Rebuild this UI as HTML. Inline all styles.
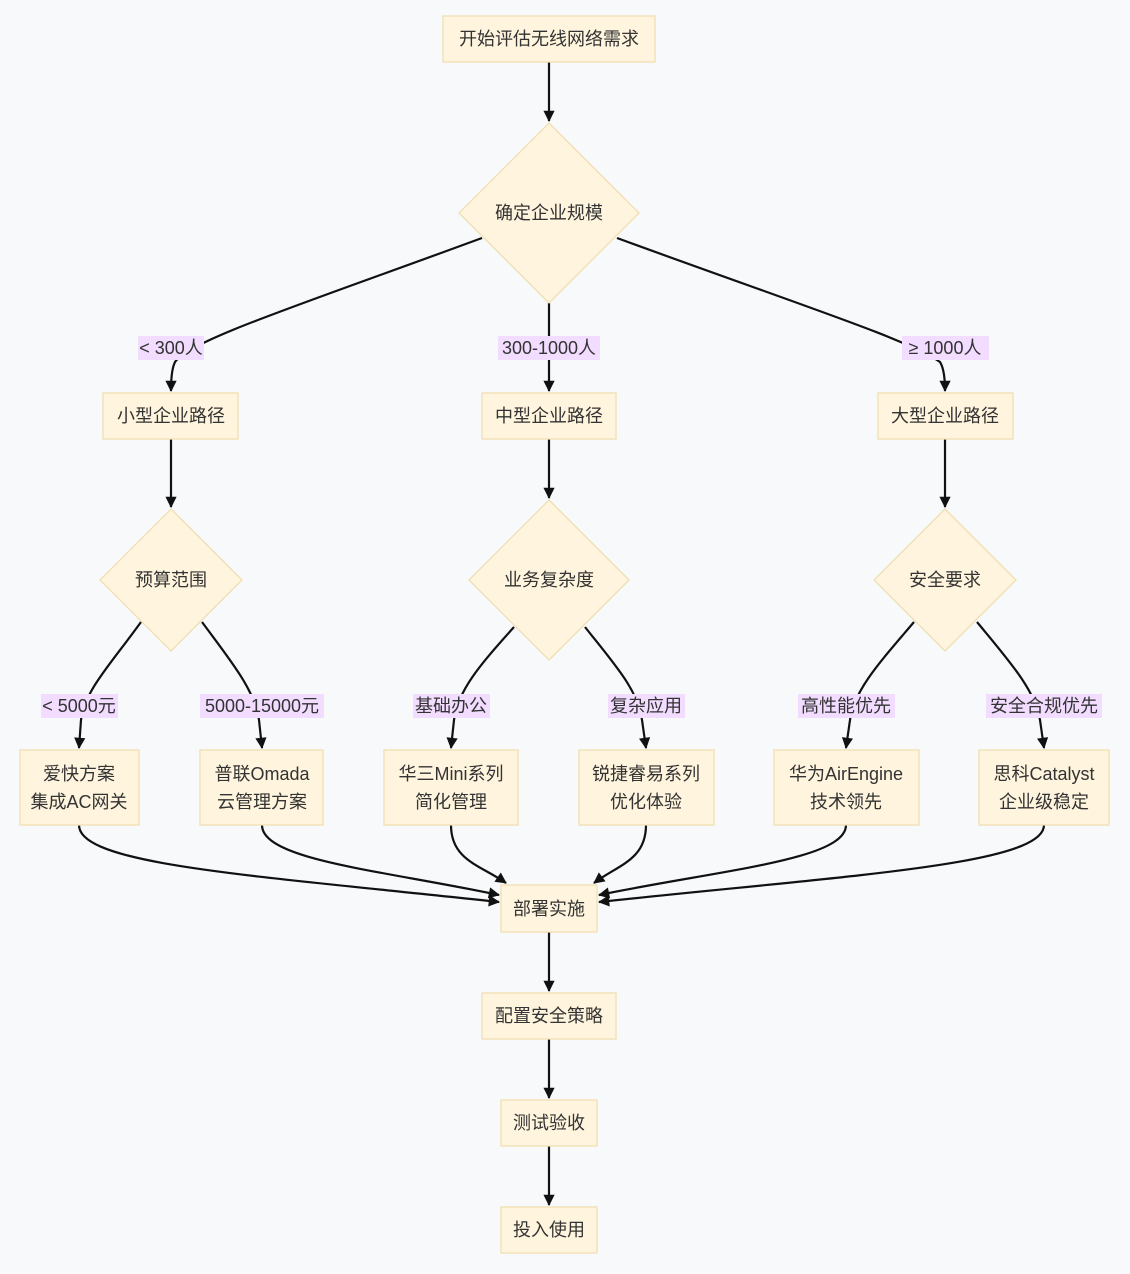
<!DOCTYPE html>
<html><head><meta charset="utf-8"><style>
body{margin:0;background:#f8f9fa;}
svg{display:block;font-family:"Liberation Sans","Noto Sans CJK SC",sans-serif;}
.n{fill:#fff4dd;stroke:#f1deb2;stroke-width:1.3;}
.e{fill:none;stroke:#111;stroke-width:2.2;}
.t{font-size:18px;fill:#333;text-anchor:middle;dominant-baseline:central;}
.lb{fill:#f2dcff;}
</style></head><body>
<svg width="1130" height="1274" viewBox="0 0 1130 1274">
<defs><marker id="a" viewBox="0 0 10 10" refX="9" refY="5" markerWidth="7" markerHeight="7" markerUnits="userSpaceOnUse" orient="auto" style="overflow:visible"><path d="M0,0 L10,5 L0,10 z" fill="#111" transform="scale(1.6) translate(-3.5,-1.9)"/></marker></defs>
<g class="e">
<path d="M549,62 V121" marker-end="url(#a)"/>
<path d="M482,238 C300,305 190,340 175,362 Q171,370 171,391" marker-end="url(#a)"/>
<path d="M549,303 V391" marker-end="url(#a)"/>
<path d="M617,238 C800,305 910,340 940,362 Q945,370 945,391" marker-end="url(#a)"/>
<path d="M171,439 V507" marker-end="url(#a)"/>
<path d="M549,439 V498" marker-end="url(#a)"/>
<path d="M945,439 V507" marker-end="url(#a)"/>
<path d="M141,622 C110,665 85,690 81,720 L79,748" marker-end="url(#a)"/>
<path d="M202,622 C230,660 255,690 259,720 L262,748" marker-end="url(#a)"/>
<path d="M514,627 C480,665 458,690 454,720 L451,748" marker-end="url(#a)"/>
<path d="M585,627 C615,665 638,690 642,720 L646,748" marker-end="url(#a)"/>
<path d="M914,622 C880,662 854,690 850,720 L846,748" marker-end="url(#a)"/>
<path d="M977,622 C1010,662 1035,690 1040,720 L1044,748" marker-end="url(#a)"/>
<path d="M79,825 C79,865 250,875 499,902" marker-end="url(#a)"/>
<path d="M262,825 C262,860 380,870 499,895" marker-end="url(#a)"/>
<path d="M451,825 C451,860 480,865 506,883" marker-end="url(#a)"/>
<path d="M646,825 C646,860 618,865 594,883" marker-end="url(#a)"/>
<path d="M846,825 C846,860 720,870 599,895" marker-end="url(#a)"/>
<path d="M1044,825 C1044,865 850,875 599,902" marker-end="url(#a)"/>
<path d="M549,932 V991" marker-end="url(#a)"/>
<path d="M549,1039 V1098" marker-end="url(#a)"/>
<path d="M549,1146 V1205" marker-end="url(#a)"/>
</g>
<g>
<rect class="n" x="443" y="16" width="212" height="46"/><text class="t" x="549" y="39">开始评估无线网络需求</text>
<polygon class="n" points="549,123 639,213 549,303 459,213"/><text class="t" x="549" y="213">确定企业规模</text>
<rect class="lb" x="138" y="336" width="66" height="24"/><text class="t" x="171" y="348">&lt; 300人</text>
<rect class="lb" x="498" y="336" width="102" height="24"/><text class="t" x="549" y="348">300-1000人</text>
<rect class="lb" x="902" y="336" width="87" height="24"/><text class="t" x="945" y="348">≥ 1000人</text>
<rect class="n" x="103" y="393" width="135" height="46"/><text class="t" x="171" y="416">小型企业路径</text>
<rect class="n" x="482" y="393" width="134" height="46"/><text class="t" x="549" y="416">中型企业路径</text>
<rect class="n" x="878" y="393" width="135" height="46"/><text class="t" x="945" y="416">大型企业路径</text>
<polygon class="n" points="171,509 242,580 171,651 100,580"/><text class="t" x="171" y="580">预算范围</text>
<polygon class="n" points="549,500 629,580 549,660 469,580"/><text class="t" x="549" y="580">业务复杂度</text>
<polygon class="n" points="945,509 1016,580 945,651 874,580"/><text class="t" x="945" y="580">安全要求</text>
<rect class="lb" x="41" y="694" width="77" height="24"/><text class="t" x="79" y="706">&lt; 5000元</text>
<rect class="lb" x="200" y="694" width="124" height="24"/><text class="t" x="262" y="706">5000-15000元</text>
<rect class="lb" x="413" y="694" width="77" height="24"/><text class="t" x="451" y="706">基础办公</text>
<rect class="lb" x="608" y="694" width="77" height="24"/><text class="t" x="646" y="706">复杂应用</text>
<rect class="lb" x="798" y="694" width="97" height="24"/><text class="t" x="846" y="706">高性能优先</text>
<rect class="lb" x="986" y="694" width="116" height="24"/><text class="t" x="1044" y="706">安全合规优先</text>
<rect class="n" x="20" y="750" width="119" height="75"/><text class="t" x="79" y="774">爱快方案</text><text class="t" x="79" y="802">集成AC网关</text>
<rect class="n" x="200" y="750" width="123" height="75"/><text class="t" x="262" y="774">普联Omada</text><text class="t" x="262" y="802">云管理方案</text>
<rect class="n" x="384" y="750" width="134" height="75"/><text class="t" x="451" y="774">华三Mini系列</text><text class="t" x="451" y="802">简化管理</text>
<rect class="n" x="579" y="750" width="135" height="75"/><text class="t" x="646" y="774">锐捷睿易系列</text><text class="t" x="646" y="802">优化体验</text>
<rect class="n" x="774" y="750" width="145" height="75"/><text class="t" x="846" y="774">华为AirEngine</text><text class="t" x="846" y="802">技术领先</text>
<rect class="n" x="979" y="750" width="130" height="75"/><text class="t" x="1044" y="774">思科Catalyst</text><text class="t" x="1044" y="802">企业级稳定</text>
<rect class="n" x="501" y="885" width="96" height="47"/><text class="t" x="549" y="909">部署实施</text>
<rect class="n" x="482" y="993" width="134" height="46"/><text class="t" x="549" y="1016">配置安全策略</text>
<rect class="n" x="501" y="1100" width="96" height="46"/><text class="t" x="549" y="1123">测试验收</text>
<rect class="n" x="501" y="1207" width="96" height="46"/><text class="t" x="549" y="1230">投入使用</text>
</g>
</svg>
</body></html>
